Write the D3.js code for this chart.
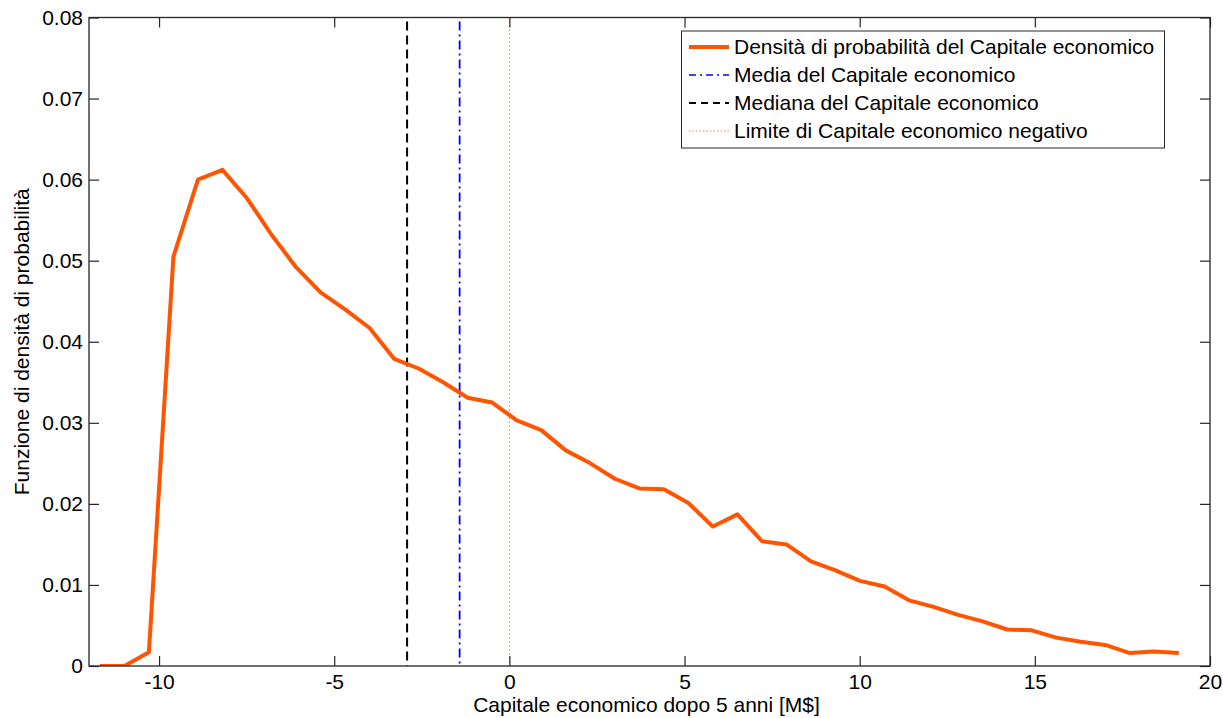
<!DOCTYPE html>
<html>
<head>
<meta charset="utf-8">
<script src="https://cdn.jsdelivr.net/npm/d3@7"></script>
<style>
  html, body { margin: 0; padding: 0; background: #fff; }
  svg { display: block; font-family: "Liberation Sans", Arial, sans-serif; }
</style>
</head>
<body>
<svg id="chart" width="1223" height="718"></svg>
<script>
// Economic capital after 5 years [M$] — sample points of the density
const capitalX = [-11.69, -10.99, -10.29, -9.59, -8.89, -8.19, -7.49, -6.79, -6.09, -5.39,
                  -4.69, -3.99, -3.29, -2.59, -1.89, -1.19, -0.49, 0.21, 0.91, 1.61,
                  2.31, 3.01, 3.71, 4.41, 5.11, 5.81, 6.51, 7.21, 7.91, 8.61,
                  9.31, 10.01, 10.71, 11.41, 12.11, 12.81, 13.51, 14.21, 14.91, 15.61,
                  16.31, 17.01, 17.71, 18.41, 19.11];
const densityY = [0, 0, 0.0017, 0.0505, 0.0600, 0.0612, 0.0577, 0.0532, 0.0492, 0.0461,
                  0.0440, 0.0417, 0.0379, 0.0367, 0.0350, 0.0331, 0.0325, 0.0303, 0.0291, 0.0266,
                  0.0250, 0.0231, 0.0219, 0.0218, 0.0201, 0.0172, 0.0187, 0.0154, 0.0150, 0.0129,
                  0.0118, 0.0105, 0.0098, 0.0081, 0.0073, 0.0063, 0.0055, 0.0045, 0.0044, 0.0035,
                  0.0030, 0.0026, 0.0016, 0.0018, 0.0016];

const meanCapital = -1.42;
const medianCapital = -2.92;
const negativeLimit = 0;

const xTicks = [-10, -5, 0, 5, 10, 15, 20];
const yTicks = [0, 0.01, 0.02, 0.03, 0.04, 0.05, 0.06, 0.07, 0.08];

const legendLabels = [
  "Densità di probabilità del Capitale economico",
  "Media del Capitale economico",
  "Mediana del Capitale economico",
  "Limite di Capitale economico negativo"
];

const svg = d3.select("#chart");
const plot = { left: 89, top: 17.5, right: 1210, bottom: 666 };

const x = d3.scaleLinear().domain([-12, 20]).range([plot.left, plot.right]);
const y = d3.scaleLinear().domain([0, 0.08]).range([plot.bottom, plot.top]);

const axisColor = "#262626";
const fontSize = 21;

// clip for plot content
svg.append("defs").append("clipPath").attr("id", "plotClip")
  .append("rect")
  .attr("x", plot.left).attr("y", plot.top)
  .attr("width", plot.right - plot.left).attr("height", plot.bottom - plot.top);

const content = svg.append("g").attr("clip-path", "url(#plotClip)");

// vertical reference lines
const refLines = [
  { v: negativeLimit, color: "#ff7f50", width: 1.2, dash: "1.5,2.5" },
  { v: medianCapital, color: "#000000", width: 2, dash: "9,5" },
  { v: meanCapital, color: "#0000ff", width: 1.8, dash: "9,4,2,4" }
];
refLines.forEach(r => {
  content.append("line")
    .attr("x1", x(r.v)).attr("x2", x(r.v))
    .attr("y1", y(0.0795)).attr("y2", y(0))
    .attr("stroke", r.color)
    .attr("stroke-width", r.width)
    .attr("stroke-dasharray", r.dash);
});

// density curve
const pts = capitalX.map((v, i) => [v, densityY[i]]);
const line = d3.line().x(d => x(d[0])).y(d => y(d[1]));
content.append("path")
  .datum(pts)
  .attr("d", line)
  .attr("fill", "none")
  .attr("stroke", "#ff5500")
  .attr("stroke-width", 4)
  .attr("stroke-linejoin", "round");

// axes (ticks inward on all four sides, box style)
const tickLen = 10;
const bottomAxis = d3.axisBottom(x).tickValues(xTicks).tickSizeInner(-tickLen).tickSizeOuter(0).tickPadding(8)
  .tickFormat(d => String(d));
const topAxis = d3.axisTop(x).tickValues(xTicks).tickSizeInner(-tickLen).tickSizeOuter(0).tickFormat("");
const leftAxis = d3.axisLeft(y).tickValues(yTicks).tickSizeInner(-tickLen).tickSizeOuter(0).tickPadding(6)
  .tickFormat(d => d === 0 ? "0" : d3.format(".2f")(d));
const rightAxis = d3.axisRight(y).tickValues(yTicks).tickSizeInner(-tickLen).tickSizeOuter(0).tickFormat("");

function styleAxis(g) {
  g.select(".domain").remove();
  g.selectAll(".tick line").attr("stroke", axisColor).attr("stroke-width", 1.2);
  g.selectAll(".tick text").attr("fill", "#000").style("font-size", fontSize + "px");
}

svg.append("g").attr("transform", `translate(0,${plot.bottom})`).call(bottomAxis).call(styleAxis);
svg.append("g").attr("transform", `translate(0,${plot.top})`).call(topAxis).call(styleAxis);
svg.append("g").attr("transform", `translate(${plot.left},0)`).call(leftAxis).call(styleAxis);
svg.append("g").attr("transform", `translate(${plot.right},0)`).call(rightAxis).call(styleAxis);

// box
svg.append("rect")
  .attr("x", plot.left).attr("y", plot.top)
  .attr("width", plot.right - plot.left).attr("height", plot.bottom - plot.top)
  .attr("fill", "none").attr("stroke", axisColor).attr("stroke-width", 1.3);

// axis labels
svg.append("text")
  .attr("x", (plot.left + plot.right) / 2 - 3).attr("y", 712)
  .attr("text-anchor", "middle")
  .style("font-size", fontSize + "px")
  .text("Capitale economico dopo 5 anni [M$]");

svg.append("text")
  .attr("transform", `translate(29,${(plot.top + plot.bottom) / 2}) rotate(-90)`)
  .attr("text-anchor", "middle")
  .style("font-size", fontSize + "px")
  .text("Funzione di densità di probabilità");

// legend
const legend = svg.append("g");
legend.append("rect")
  .attr("x", 681.5).attr("y", 31)
  .attr("width", 483).attr("height", 117)
  .attr("fill", "#fff").attr("stroke", axisColor).attr("stroke-width", 1);

const legendStyles = [
  { color: "#ff5500", width: 4, dash: null },
  { color: "#0000ff", width: 1.5, dash: "7,4,2,4" },
  { color: "#000000", width: 1.8, dash: "7,5" },
  { color: "#ff7f50", width: 1.2, dash: "1.5,2" }
];
legendLabels.forEach((lab, i) => {
  const cy = 47 + i * 28;
  const s = legendStyles[i];
  legend.append("line")
    .attr("x1", 689).attr("x2", 729)
    .attr("y1", cy).attr("y2", cy)
    .attr("stroke", s.color).attr("stroke-width", s.width)
    .attr("stroke-dasharray", s.dash);
  legend.append("text")
    .attr("x", 734).attr("y", cy)
    .attr("dy", "0.35em")
    .style("font-size", fontSize + "px")
    .text(lab);
});
</script>
</body>
</html>
